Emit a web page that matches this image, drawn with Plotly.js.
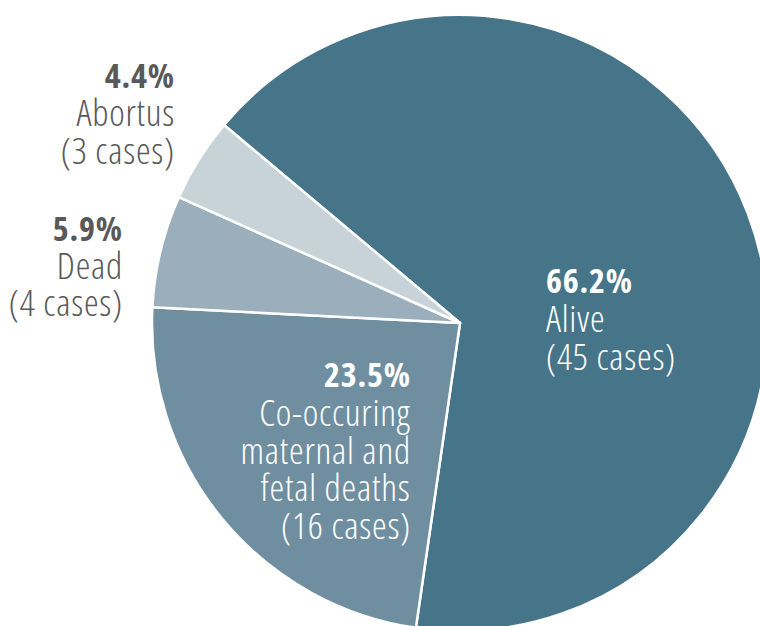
<!DOCTYPE html>
<html>
<head>
<meta charset="utf-8">
<script src="https://cdn.plot.ly/plotly-3.0.1.min.js"></script>
<style>
  html, body { margin: 0; padding: 0; overflow: hidden; background: #ffffff; }
  #chart { width: 800px; height: 660px; }
  text.annotation-text, text.annotation-text tspan { font-stretch: 75%; }
  .lbl-reg text.annotation-text { letter-spacing: 0.8px; }
</style>
</head>
<body>
<div id="chart"></div>
<script>
// ---- data ----
const categories = ['Alive', 'Co-occuring maternal and fetal deaths', 'Dead', 'Abortus'];
const labelLines = [['Alive'], ['Co-occuring', 'maternal and', 'fetal deaths'], ['Dead'], ['Abortus']];
const cases = [45, 16, 4, 3];
const sliceColors = ['#46758a', '#6f8fa1', '#9aaebb', '#c8d2d9'];

// ---- layout constants ----
const W = 800, H = 660;
const CX = 460, CY = 323, R = 308;
const FONT = '"Open Sans", "DejaVu Sans Condensed", sans-serif';
const FS_PCT = 34, FS_TXT = 37;
const PITCH = 37.5;
// label block anchors: x in px, top line centre y in px, anchor side, colour
const blocks = [
  { x: 544, y: 280, side: 'left',  color: '#ffffff', pitch: 37.5 },
  { x: 413, y: 374, side: 'right', color: '#ffffff', pitch: 37.5 },
  { x: 125, y: 228, side: 'right', color: '#595959', pitch: 36.5 },
  { x: 177, y: 75,  side: 'right', color: '#595959', pitch: 37 }
];

const total = cases.reduce((a, b) => a + b, 0);
const annotations = [];
cases.forEach((v, i) => {
  const b = blocks[i];
  const lines = [(v / total * 100).toFixed(1) + '%']
    .concat(labelLines[i])
    .concat(['(' + v + ' cases)']);
  lines.forEach((t, k) => {
    annotations.push({
      xref: 'paper', yref: 'paper',
      x: b.x / W, y: 1 - (b.y + k * b.pitch) / H,
      xanchor: b.side, yanchor: 'middle',
      text: t, showarrow: false,
      align: b.side,
      font: { family: FONT, size: k === 0 ? FS_PCT : FS_TXT, color: b.color, weight: k === 0 ? 700 : 300 }
    });
  });
});

const trace = {
  type: 'pie',
  labels: categories,
  values: cases,
  sort: false,
  direction: 'clockwise',
  rotation: -50,
  marker: { colors: sliceColors, line: { color: '#ffffff', width: 2.5 } },
  textinfo: 'none',
  hoverinfo: 'none',
  showlegend: false,
  domain: {
    x: [(CX - R) / W, (CX + R) / W],
    y: [1 - (CY + R) / H, 1 - (CY - R) / H]
  }
};

const layout = {
  width: W, height: H,
  margin: { l: 0, r: 0, t: 0, b: 0, pad: 0 },
  paper_bgcolor: '#ffffff',
  showlegend: false,
  annotations: annotations
};

document.getElementById('chart').classList.add('lbl-reg');
Plotly.newPlot('chart', [trace], layout, { displayModeBar: false, staticPlot: true });
</script>
</body>
</html>
